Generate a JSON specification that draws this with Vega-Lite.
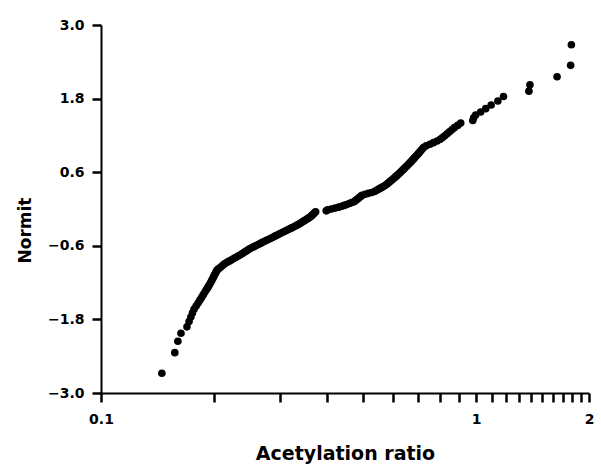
{
  "$schema": "https://vega.github.io/schema/vega-lite/v6.json",
  "width": 488,
  "height": 368,
  "autosize": {"type": "none"},
  "padding": {"left": 101, "top": 25, "right": 12, "bottom": 78},
  "background": "white",
  "config": {
    "view": {"stroke": null},
    "axis": {"grid": false}
  },
  "data": {"values": [
    {"ratio": 0.1453, "normit": -2.679},
    {"ratio": 0.1573, "normit": -2.342},
    {"ratio": 0.1603, "normit": -2.157},
    {"ratio": 0.1634, "normit": -2.025},
    {"ratio": 0.1695, "normit": -1.921},
    {"ratio": 0.1717, "normit": -1.835},
    {"ratio": 0.1736, "normit": -1.761},
    {"ratio": 0.1753, "normit": -1.695},
    {"ratio": 0.1770, "normit": -1.636},
    {"ratio": 0.1793, "normit": -1.582},
    {"ratio": 0.1815, "normit": -1.532},
    {"ratio": 0.1835, "normit": -1.486},
    {"ratio": 0.1854, "normit": -1.442},
    {"ratio": 0.1872, "normit": -1.401},
    {"ratio": 0.1889, "normit": -1.363},
    {"ratio": 0.1905, "normit": -1.326},
    {"ratio": 0.1921, "normit": -1.291},
    {"ratio": 0.1935, "normit": -1.258},
    {"ratio": 0.1949, "normit": -1.226},
    {"ratio": 0.1962, "normit": -1.195},
    {"ratio": 0.1973, "normit": -1.166},
    {"ratio": 0.1984, "normit": -1.137},
    {"ratio": 0.1995, "normit": -1.109},
    {"ratio": 0.2005, "normit": -1.082},
    {"ratio": 0.2015, "normit": -1.056},
    {"ratio": 0.2025, "normit": -1.030},
    {"ratio": 0.2035, "normit": -1.005},
    {"ratio": 0.2052, "normit": -0.981},
    {"ratio": 0.2075, "normit": -0.957},
    {"ratio": 0.2097, "normit": -0.934},
    {"ratio": 0.2120, "normit": -0.911},
    {"ratio": 0.2141, "normit": -0.889},
    {"ratio": 0.2172, "normit": -0.867},
    {"ratio": 0.2204, "normit": -0.846},
    {"ratio": 0.2235, "normit": -0.825},
    {"ratio": 0.2265, "normit": -0.805},
    {"ratio": 0.2297, "normit": -0.784},
    {"ratio": 0.2326, "normit": -0.764},
    {"ratio": 0.2354, "normit": -0.745},
    {"ratio": 0.2382, "normit": -0.725},
    {"ratio": 0.2410, "normit": -0.706},
    {"ratio": 0.2437, "normit": -0.687},
    {"ratio": 0.2463, "normit": -0.669},
    {"ratio": 0.2490, "normit": -0.650},
    {"ratio": 0.2521, "normit": -0.632},
    {"ratio": 0.2556, "normit": -0.614},
    {"ratio": 0.2592, "normit": -0.596},
    {"ratio": 0.2625, "normit": -0.579},
    {"ratio": 0.2661, "normit": -0.561},
    {"ratio": 0.2694, "normit": -0.544},
    {"ratio": 0.2729, "normit": -0.527},
    {"ratio": 0.2765, "normit": -0.510},
    {"ratio": 0.2802, "normit": -0.493},
    {"ratio": 0.2838, "normit": -0.476},
    {"ratio": 0.2873, "normit": -0.460},
    {"ratio": 0.2909, "normit": -0.443},
    {"ratio": 0.2944, "normit": -0.427},
    {"ratio": 0.2978, "normit": -0.411},
    {"ratio": 0.3012, "normit": -0.395},
    {"ratio": 0.3051, "normit": -0.379},
    {"ratio": 0.3090, "normit": -0.363},
    {"ratio": 0.3126, "normit": -0.348},
    {"ratio": 0.3165, "normit": -0.332},
    {"ratio": 0.3204, "normit": -0.316},
    {"ratio": 0.3240, "normit": -0.301},
    {"ratio": 0.3279, "normit": -0.285},
    {"ratio": 0.3315, "normit": -0.270},
    {"ratio": 0.3350, "normit": -0.255},
    {"ratio": 0.3381, "normit": -0.240},
    {"ratio": 0.3415, "normit": -0.224},
    {"ratio": 0.3446, "normit": -0.209},
    {"ratio": 0.3477, "normit": -0.194},
    {"ratio": 0.3509, "normit": -0.179},
    {"ratio": 0.3540, "normit": -0.164},
    {"ratio": 0.3572, "normit": -0.149},
    {"ratio": 0.3603, "normit": -0.134},
    {"ratio": 0.3630, "normit": -0.119},
    {"ratio": 0.3651, "normit": -0.104},
    {"ratio": 0.3672, "normit": -0.089},
    {"ratio": 0.3693, "normit": -0.074},
    {"ratio": 0.3714, "normit": -0.059},
    {"ratio": 0.3735, "normit": -0.044},
    {"ratio": 0.3985, "normit": -0.030},
    {"ratio": 0.4020, "normit": -0.015},
    {"ratio": 0.4114, "normit": 0.000},
    {"ratio": 0.4209, "normit": 0.015},
    {"ratio": 0.4304, "normit": 0.030},
    {"ratio": 0.4383, "normit": 0.044},
    {"ratio": 0.4451, "normit": 0.059},
    {"ratio": 0.4520, "normit": 0.074},
    {"ratio": 0.4589, "normit": 0.089},
    {"ratio": 0.4658, "normit": 0.104},
    {"ratio": 0.4727, "normit": 0.119},
    {"ratio": 0.4762, "normit": 0.134},
    {"ratio": 0.4796, "normit": 0.149},
    {"ratio": 0.4831, "normit": 0.164},
    {"ratio": 0.4865, "normit": 0.179},
    {"ratio": 0.4900, "normit": 0.194},
    {"ratio": 0.4934, "normit": 0.209},
    {"ratio": 0.4969, "normit": 0.224},
    {"ratio": 0.5060, "normit": 0.240},
    {"ratio": 0.5163, "normit": 0.255},
    {"ratio": 0.5266, "normit": 0.270},
    {"ratio": 0.5359, "normit": 0.285},
    {"ratio": 0.5417, "normit": 0.301},
    {"ratio": 0.5472, "normit": 0.316},
    {"ratio": 0.5530, "normit": 0.332},
    {"ratio": 0.5588, "normit": 0.348},
    {"ratio": 0.5643, "normit": 0.363},
    {"ratio": 0.5701, "normit": 0.379},
    {"ratio": 0.5756, "normit": 0.395},
    {"ratio": 0.5798, "normit": 0.411},
    {"ratio": 0.5840, "normit": 0.427},
    {"ratio": 0.5882, "normit": 0.443},
    {"ratio": 0.5927, "normit": 0.460},
    {"ratio": 0.5969, "normit": 0.476},
    {"ratio": 0.6014, "normit": 0.493},
    {"ratio": 0.6059, "normit": 0.510},
    {"ratio": 0.6104, "normit": 0.527},
    {"ratio": 0.6149, "normit": 0.544},
    {"ratio": 0.6192, "normit": 0.561},
    {"ratio": 0.6236, "normit": 0.579},
    {"ratio": 0.6277, "normit": 0.596},
    {"ratio": 0.6321, "normit": 0.614},
    {"ratio": 0.6365, "normit": 0.632},
    {"ratio": 0.6409, "normit": 0.650},
    {"ratio": 0.6455, "normit": 0.669},
    {"ratio": 0.6499, "normit": 0.687},
    {"ratio": 0.6546, "normit": 0.706},
    {"ratio": 0.6592, "normit": 0.725},
    {"ratio": 0.6641, "normit": 0.745},
    {"ratio": 0.6687, "normit": 0.764},
    {"ratio": 0.6734, "normit": 0.784},
    {"ratio": 0.6783, "normit": 0.805},
    {"ratio": 0.6830, "normit": 0.825},
    {"ratio": 0.6879, "normit": 0.846},
    {"ratio": 0.6927, "normit": 0.867},
    {"ratio": 0.6979, "normit": 0.889},
    {"ratio": 0.7030, "normit": 0.911},
    {"ratio": 0.7083, "normit": 0.934},
    {"ratio": 0.7137, "normit": 0.957},
    {"ratio": 0.7193, "normit": 0.981},
    {"ratio": 0.7249, "normit": 1.005},
    {"ratio": 0.7365, "normit": 1.030},
    {"ratio": 0.7533, "normit": 1.056},
    {"ratio": 0.7701, "normit": 1.082},
    {"ratio": 0.7876, "normit": 1.109},
    {"ratio": 0.8026, "normit": 1.137},
    {"ratio": 0.8138, "normit": 1.166},
    {"ratio": 0.8250, "normit": 1.195},
    {"ratio": 0.8370, "normit": 1.226},
    {"ratio": 0.8492, "normit": 1.258},
    {"ratio": 0.8618, "normit": 1.291},
    {"ratio": 0.8751, "normit": 1.326},
    {"ratio": 0.8930, "normit": 1.363},
    {"ratio": 0.9100, "normit": 1.401},
    {"ratio": 0.9800, "normit": 1.442},
    {"ratio": 0.9850, "normit": 1.486},
    {"ratio": 0.9969, "normit": 1.532},
    {"ratio": 1.0285, "normit": 1.582},
    {"ratio": 1.061, "normit": 1.636},
    {"ratio": 1.097, "normit": 1.695},
    {"ratio": 1.143, "normit": 1.761},
    {"ratio": 1.183, "normit": 1.835},
    {"ratio": 1.383, "normit": 1.921},
    {"ratio": 1.392, "normit": 2.025},
    {"ratio": 1.644, "normit": 2.157},
    {"ratio": 1.787, "normit": 2.342},
    {"ratio": 1.795, "normit": 2.679}
  ]},
  "mark": {"type": "point", "filled": true, "color": "black", "opacity": 1, "size": 58},
  "encoding": {
    "x": {
      "field": "ratio", "type": "quantitative",
      "scale": {"type": "log", "domain": [0.1, 2], "nice": false},
      "axis": {
        "title": "Acetylation ratio", "titleFontSize": 19, "titlePadding": 18,
        "titleFont": "DejaVu Sans", "titleFontWeight": "bold", "titleColor": "black",
        "values": [0.1, 0.2, 0.3, 0.4, 0.5, 0.6, 0.7, 0.8, 0.9, 1, 1.1, 1.2, 1.3, 1.4, 1.5, 1.6, 1.7, 1.8, 1.9, 2],
        "labelExpr": "(datum.value == 0.1 || datum.value == 1 || datum.value == 2) ? format(datum.value, '~g') : ''",
        "domainColor": "black", "domainWidth": 2,
        "ticks": true, "tickColor": "black", "tickWidth": 2.5, "tickOpacity": 1, "tickSize": 9,
        "labelFont": "DejaVu Sans", "labelFontWeight": "bold", "labelFontSize": 14, "labelColor": "black",
        "labelPadding": 10, "labelFlush": false, "labelOverlap": false
      }
    },
    "y": {
      "field": "normit", "type": "quantitative",
      "scale": {"domain": [-3, 3], "nice": false, "zero": false},
      "axis": {
        "title": "Normit", "titleFontSize": 17, "titlePadding": 13, "titleY": 205,
        "titleFont": "DejaVu Sans", "titleFontWeight": "bold", "titleColor": "black",
        "values": [-3, -1.8, -0.6, 0.6, 1.8, 3], "format": ".1f",
        "domainColor": "black", "domainWidth": 2,
        "ticks": true, "tickColor": "black", "tickWidth": 2.5, "tickOpacity": 1, "tickSize": 9,
        "labelFont": "DejaVu Sans", "labelFontWeight": "bold", "labelFontSize": 14, "labelColor": "black",
        "labelPadding": 8
      }
    }
  }
}
